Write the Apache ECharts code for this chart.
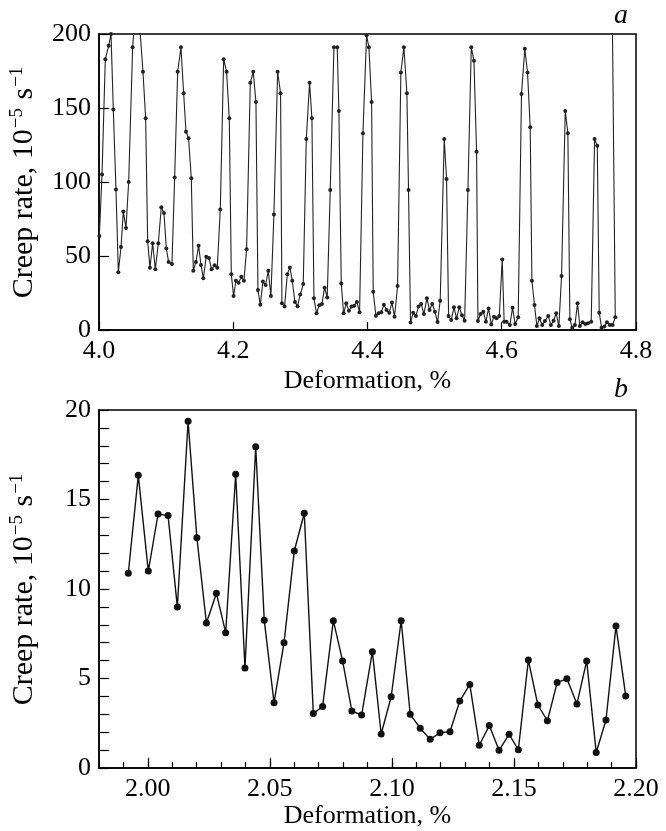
<!DOCTYPE html>
<html>
<head>
<meta charset="utf-8">
<script src="https://cdn.jsdelivr.net/npm/echarts@6/dist/echarts.min.js"></script>
<style>
  html, body { margin: 0; padding: 0; background: #fff; }
  #chart { width: 666px; height: 831px; }
</style>
</head>
<body>
<div id="chart"></div>
<script>
// panel a: deformation 4.0–4.8 %
const topX = [
  4.0005, 4.0045, 4.0094, 4.0144, 4.0179, 4.0213, 4.0253, 4.0288, 4.0328, 4.0362,
  4.0402, 4.0442, 4.0501, 4.0541, 4.0581, 4.0655, 4.0695, 4.0725, 4.0759, 4.0799,
  4.0839, 4.0884, 4.0928, 4.0968, 4.1003, 4.1037, 4.1087, 4.1127, 4.1172, 4.1221,
  4.1261, 4.1296, 4.1335, 4.1375, 4.1405, 4.1444, 4.1484, 4.1519, 4.1554, 4.1598,
  4.1638, 4.1678, 4.1722, 4.1762, 4.1807, 4.1857, 4.1901, 4.1941, 4.1971, 4.2005,
  4.2040, 4.2080, 4.2120, 4.2159, 4.2199, 4.2254, 4.2298, 4.2338, 4.2368, 4.2403,
  4.2442, 4.2482, 4.2522, 4.2561, 4.2606, 4.2661, 4.2705, 4.2725, 4.2765, 4.2805,
  4.2844, 4.2879, 4.2919, 4.2958, 4.2998, 4.3043, 4.3088, 4.3137, 4.3172, 4.3202,
  4.3241, 4.3281, 4.3321, 4.3361, 4.3400, 4.3445, 4.3500, 4.3549, 4.3574, 4.3609,
  4.3644, 4.3683, 4.3723, 4.3763, 4.3802, 4.3842, 4.3882, 4.3932, 4.3986, 4.4021,
  4.4061, 4.4085, 4.4125, 4.4165, 4.4205, 4.4244, 4.4284, 4.4324, 4.4364, 4.4403,
  4.4448, 4.4497, 4.4542, 4.4587, 4.4611, 4.4641, 4.4681, 4.4721, 4.4760, 4.4800,
  4.4840, 4.4885, 4.4924, 4.4964, 4.5004, 4.5044, 4.5083, 4.5143, 4.5178, 4.5208,
  4.5248, 4.5288, 4.5327, 4.5367, 4.5407, 4.5447, 4.5496, 4.5546, 4.5586, 4.5625,
  4.5645, 4.5685, 4.5725, 4.5764, 4.5804, 4.5844, 4.5884, 4.5923, 4.5963, 4.6007,
  4.6036, 4.6071, 4.6121, 4.6161, 4.6200, 4.6245, 4.6294, 4.6344, 4.6384, 4.6424,
  4.6449, 4.6488, 4.6523, 4.6563, 4.6603, 4.6643, 4.6692, 4.6732, 4.6772, 4.6811,
  4.6851, 4.6891, 4.6946, 4.6985, 4.7015, 4.7050, 4.7090, 4.7129, 4.7164, 4.7204,
  4.7244, 4.7284, 4.7333, 4.7383, 4.7423, 4.7452, 4.7487, 4.7527, 4.7567, 4.7611,
  4.7651, 4.7691, 4.7637
];
const topRate = [
  63.5, 105, 183, 192, 200, 149, 95, 39, 56, 80,
  69, 100, 191, 215, 222, 174.5, 143, 60, 42, 58.6,
  41, 58.6, 83, 79, 55, 46, 44.6, 103, 174.5, 191,
  160, 134, 129.5, 102.5, 40, 46, 57, 44, 35, 49.5,
  48.6, 41, 43.7, 42, 81.5, 183, 174.5, 143, 37.6, 23,
  33.3, 32, 36, 33.3, 54.5, 167, 174.5, 154, 27, 17,
  32.7, 30.4, 40, 23, 78, 174.5, 160, 18, 15.8, 37.6,
  42.3, 33.3, 19, 16, 24, 31, 129, 167, 143, 21.4,
  11.3, 16.7, 17.6, 28.6, 22, 94.6, 191, 191, 148, 31.5,
  11.3, 18, 13, 15.8, 16.4, 19, 12, 133, 199, 191,
  154, 25.9, 9.7, 11.3, 12, 17, 13.5, 11.7, 18.5, 9,
  29.7, 174, 191, 160, 94.6, 5, 11.7, 9.5, 15.8, 17.6,
  10.8, 21.4, 13.5, 17.6, 12.4, 5.4, 19.8, 129, 102, 9.5,
  6.8, 15.3, 7.9, 15.3, 10, 6.3, 94.6, 191, 182, 120.5,
  6, 10.8, 12.4, 5.6, 14.6, 3.8, 9, 7.9, 9.5, 47.7,
  5.6, 5.6, 3.4, 15, 4, 8.6, 159.5, 190, 174, 137,
  33.3, 16.9, 2.7, 7.9, 3.4, 6, 9.5, 3.4, 6.3, 11.3,
  2.7, 36.5, 148, 133, 7.2, 1.6, 3.4, 18, 2.7, 5.2,
  4, 4.5, 5.6, 129, 124.5, 11.7, 1.6, 2.3, 5.2, 3.4,
  3.4, 8.6, 260
];

// panel b: deformation 1.98–2.20 %
const botX = [
  1.9920, 1.9961, 2.0002, 2.0042, 2.0083, 2.0121, 2.0165, 2.0201, 2.0240, 2.0281,
  2.0319, 2.0360, 2.0398, 2.0442, 2.0477, 2.0517, 2.0558, 2.0600, 2.0641, 2.0678,
  2.0716, 2.0760, 2.0798, 2.0836, 2.0876, 2.0920, 2.0956, 2.0997, 2.1038, 2.1075,
  2.1116, 2.1157, 2.1197, 2.1238, 2.1278, 2.1319, 2.1358, 2.1399, 2.1439, 2.1480,
  2.1518, 2.1559, 2.1598, 2.1637, 2.1677, 2.1717, 2.1758, 2.1798, 2.1837, 2.1877,
  2.1918, 2.1958
];
const botRate = [
  10.88, 16.35, 11.0, 14.19, 14.10, 8.99, 19.37, 12.87, 8.1, 9.76,
  7.56, 16.41, 5.59, 17.95, 8.25, 3.65, 7.0, 12.12, 14.23, 3.05,
  3.43, 8.23, 5.98, 3.18, 2.96, 6.5, 1.9, 3.98, 8.23, 3.0,
  2.22, 1.6, 1.97, 2.03, 3.74, 4.67, 1.27, 2.37, 0.99, 1.88,
  1.02, 6.03, 3.52, 2.64, 4.77, 4.99, 3.58, 5.98, 0.87, 2.68,
  7.93, 4.02
];
const botMajorTicks = [2.00, 2.05, 2.10, 2.15, 2.20];

const FONT = '"Liberation Serif", "Times New Roman", serif';
const txt = { fontFamily: FONT, fontSize: 26, color: '#000' };
const yName = 'Creep rate, 10{sup|\u22125} s{sup|\u22121}';
const yNameStyle = {
  fontFamily: FONT, fontSize: 30, color: '#000',
  rich: {
    sup: { fontFamily: FONT, fontSize: 19, color: '#000', verticalAlign: 'top', padding: [0, 1, 14, 1] }
  }
};
const axisLine = { show: true, lineStyle: { color: '#000', width: 1.5 } };

const chart = echarts.init(document.getElementById('chart'), null, { renderer: 'canvas' });

chart.setOption({
  animation: false,
  backgroundColor: '#fff',
  graphic: [
    { type: 'text', left: 614, top: 2, style: { text: 'a', font: 'italic 28px ' + FONT, fill: '#000' } },
    { type: 'text', left: 614, top: 376, style: { text: 'b', font: 'italic 28px ' + FONT, fill: '#000' } }
  ],
  grid: [
    { left: 99, right: 30, top: 34, height: 296, show: true, borderColor: '#000', borderWidth: 1.5 },
    { left: 99, right: 30, top: 410, height: 358, show: true, borderColor: '#000', borderWidth: 1.5 }
  ],
  xAxis: [
    {
      gridIndex: 0, type: 'value', min: 4.0, max: 4.8, interval: 0.2,
      axisLine, splitLine: { show: false },
      axisTick: { inside: true, length: 8, lineStyle: { color: '#000', width: 1.2 } },
      axisLabel: { ...txt, margin: 8, formatter: (v) => v.toFixed(1) },
      name: 'Deformation, %', nameLocation: 'middle', nameGap: 38, nameTextStyle: txt
    },
    {
      gridIndex: 1, type: 'value', min: 1.98, max: 2.2, interval: 0.01,
      axisLine, splitLine: { show: false },
      axisTick: { inside: true, length: 6, lineStyle: { color: '#000', width: 1.2 } },
      axisLabel: {
        ...txt, margin: 8,
        formatter: (v) => (Math.round(v * 100) % 5 === 0 ? v.toFixed(2) : '')
      },
      name: 'Deformation, %', nameLocation: 'middle', nameGap: 34, nameTextStyle: txt
    },
    {
      // longer ticks at the labelled positions of panel b
      gridIndex: 1, type: 'value', min: 1.98, max: 2.2, position: 'bottom',
      axisLine: { show: false }, splitLine: { show: false }, axisLabel: { show: false },
      axisTick: { show: true, inside: true, length: 10, customValues: botMajorTicks,
        lineStyle: { color: '#000', width: 1.2 } }
    }
  ],
  yAxis: [
    {
      gridIndex: 0, type: 'value', min: 0, max: 200, interval: 50,
      axisLine, splitLine: { show: false },
      axisTick: { inside: true, length: 10, lineStyle: { color: '#000', width: 1.2 } },
      axisLabel: { ...txt, margin: 8 },
      name: yName, nameLocation: 'middle', nameRotate: 90, nameGap: 58, nameTextStyle: yNameStyle
    },
    {
      gridIndex: 1, type: 'value', min: 0, max: 20, interval: 1,
      axisLine, splitLine: { show: false },
      axisTick: { inside: true, length: 10, lineStyle: { color: '#000', width: 1.2 } },
      axisLabel: { ...txt, margin: 8, formatter: (v) => (v % 5 === 0 ? String(v) : '') },
      name: yName, nameLocation: 'middle', nameRotate: 90, nameGap: 58, nameTextStyle: yNameStyle
    }
  ],
  series: [
    {
      type: 'line', xAxisIndex: 0, yAxisIndex: 0,
      data: topX.map((x, i) => [x, topRate[i]]),
      symbol: 'circle', symbolSize: 4, showAllSymbol: true,
      lineStyle: { color: '#222', width: 1.1 },
      itemStyle: { color: '#222' },
      clip: true
    },
    {
      type: 'line', xAxisIndex: 1, yAxisIndex: 1,
      data: botX.map((x, i) => [x, botRate[i]]),
      symbol: 'circle', symbolSize: 7, showAllSymbol: true,
      lineStyle: { color: '#111', width: 1.4 },
      itemStyle: { color: '#111' },
      clip: true
    }
  ]
});
</script>
</body>
</html>
